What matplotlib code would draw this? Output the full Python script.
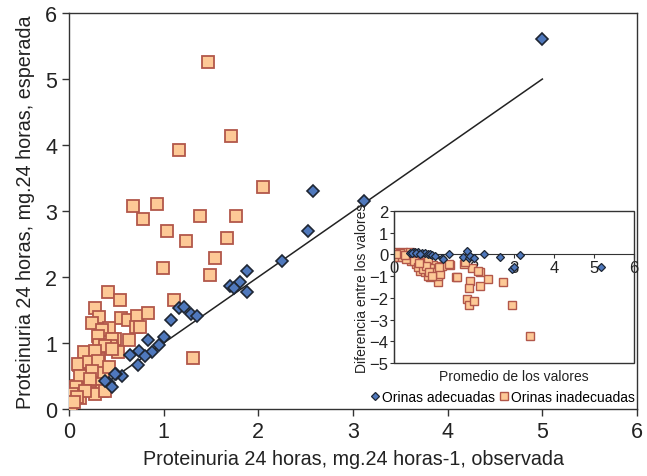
import numpy as np
import matplotlib.pyplot as plt
from matplotlib.patches import Rectangle

plt.rcParams['font.family'] = ['Liberation Sans Narrow', 'Liberation Sans', 'DejaVu Sans']

# main plot: observed vs expected proteinuria
obs_ok = [5.0, 3.12, 2.58, 2.52, 2.25, 1.88, 1.81, 1.70, 1.74, 1.88, 1.16, 1.21, 1.29, 1.35,
          1.08, 0.83, 1.00, 0.95, 0.88, 0.74, 0.64, 0.80, 0.73, 0.56, 0.50, 0.49, 0.42, 0.45, 0.38]
exp_ok = [5.6, 3.15, 3.30, 2.69, 2.24, 2.09, 1.93, 1.86, 1.84, 1.78, 1.53, 1.54, 1.44, 1.41,
          1.35, 1.05, 1.09, 0.97, 0.86, 0.88, 0.82, 0.80, 0.66, 0.50, 0.53, 0.53, 0.40, 0.34, 0.43]

obs_bad = [1.47, 1.16, 1.71, 2.05, 0.68, 0.93, 0.78, 1.38, 1.76, 1.04, 1.24, 1.67, 1.54, 0.99,
           1.49, 0.41, 0.54, 1.11, 0.28, 0.32, 0.55, 0.62, 0.72, 0.84, 0.24, 0.42, 0.35, 0.71,
           0.75, 0.63, 0.31, 0.49, 0.45, 0.44, 0.52, 0.16, 0.32, 0.31, 0.32, 1.31, 0.11, 0.23,
           0.35, 0.14, 0.14, 0.23, 0.30, 0.35, 0.27, 0.06, 0.12, 0.01, 0.00, 0.08, 0.36, 0.38,
           0.28, 0.45, 0.10, 0.21, 0.31, 0.24, 0.12, 0.22, 0.07, 0.17, 0.03, 0.01, 0.08, 0.38,
           0.42, 0.02, 0.05]
exp_bad = [5.26, 3.93, 4.14, 3.36, 3.07, 3.10, 2.88, 2.92, 2.93, 2.70, 2.54, 2.59, 2.29, 2.14,
           2.03, 1.77, 1.65, 1.65, 1.53, 1.40, 1.38, 1.35, 1.41, 1.45, 1.31, 1.23, 1.20, 1.24,
           1.25, 1.05, 1.10, 1.06, 1.06, 0.96, 0.86, 0.87, 0.97, 0.86, 0.75, 0.78, 0.67, 0.66,
           0.62, 0.56, 0.41, 0.43, 0.45, 0.28, 0.23, 0.25, 0.17, 0.13, 0.08, 0.35, 0.56, 0.96,
           0.88, 0.91, 0.68, 0.71, 0.73, 0.58, 0.50, 0.45, 0.33, 0.28, 0.23, 0.05, 0.18, 0.28,
           0.63, 0.00, 0.10]

# inset: Bland-Altman (mean of values, difference)
avg_ok = [0.52, 0.48, 0.60, 0.69, 0.77, 0.84, 0.90, 0.96, 1.02, 1.21, 1.23, 1.37, 1.82, 1.73,
          1.88, 1.90, 2.01, 2.25, 2.64, 2.95, 2.99, 3.14, 5.17, 0.40, 0.44, 0.56, 0.65]
dif_ok = [0.10, 0.10, 0.10, 0.06, 0.06, 0.02, 0.02, -0.03, -0.09, -0.18, -0.21, 0.00, 0.14, -0.13,
          -0.17, -0.06, -0.18, 0.02, -0.11, -0.67, -0.60, -0.01, -0.60, 0.05, 0.08, 0.05, 0.04]

avg_bad = [3.41, 2.95, 2.72, 2.34, 2.14, 2.15, 1.94, 1.76, 1.90, 1.88, 1.82, 1.88, 2.01, 1.54,
           1.40, 1.11, 1.11, 1.19, 0.98, 0.98, 0.90, 0.02, 0.23, 0.10, 0.35, 0.43, 0.56, 0.69,
           0.77, 0.65, 0.77, 0.85, 0.90, 1.02, 1.15, 1.12, 1.38, 0.39, 0.52, 0.85, 1.57, 2.09,
           1.78, 0.15, 0.20, 0.30, 0.50, 0.60, 0.72, 0.80, 0.88, 0.95, 0.62, 0.05, 0.28]
dif_bad = [-3.75, -2.33, -1.26, -1.13, -0.83, -1.44, -0.63, -0.44, -1.24, -1.56, -2.05, -2.32,
           -2.13, -1.06, -0.47, -1.29, -0.98, -0.52, -0.49, -0.83, -1.06, 0.10, 0.12, -0.14, -0.06,
           -0.29, -0.44, -0.52, -0.37, -0.75, -0.83, -0.98, -0.64, -0.83, -0.90, -0.60, -0.44,
           0.10, -0.06, -0.21, -1.06, -0.75, -0.36, 0.05, -0.10, -0.20, -0.30, -0.60, -0.65,
           -0.55, -0.80, -1.00, -0.40, 0.00, -0.02]

blue_face = '#4f78bc'
blue_edge = '#1e2633'
sq_face = '#fdc996'
sq_edge = '#b2574a'
axc = '#333333'

fig = plt.figure(figsize=(6.47, 4.77), dpi=100)
ax = fig.add_axes([0.1066, 0.1405, 0.878, 0.830])

ax.plot([0, 5], [0, 5], color='#222222', lw=1.1, zorder=2)
ax.plot(obs_bad, exp_bad, 's', ms=8, mfc=sq_face, mec=sq_edge, mew=1.3, zorder=3)
ax.plot(obs_ok, exp_ok, 'D', ms=6.5, mfc=blue_face, mec=blue_edge, mew=1.2, zorder=4)

ax.set_xlim(0, 6)
ax.set_ylim(0, 6)
ax.set_xticks(range(7))
ax.set_yticks(range(7))
for s in ax.spines.values():
    s.set_color(axc)
    s.set_linewidth(1.0)
ax.tick_params(direction='out', length=5, width=1, colors=axc, labelsize=15.5, labelcolor='#222222')
ax.set_xlabel('Proteinuria 24 horas, mg.24 horas-1, observada', fontsize=14.2, color='#222222', labelpad=5)
ax.set_ylabel('Proteinuria 24 horas, mg.24 horas, esperada', fontsize=14.2, color='#222222', labelpad=7)

# inset
ins = fig.add_axes([0.609, 0.2369, 0.371, 0.3187])
ins.patch.set_facecolor('white')
ins.plot(avg_bad, dif_bad, 's', ms=5.5, mfc=sq_face, mec=sq_edge, mew=1.0, zorder=3)
ins.plot(avg_ok, dif_ok, 'D', ms=4.5, mfc=blue_face, mec=blue_edge, mew=0.9, zorder=4)
ins.set_xlim(0, 6)
ins.set_ylim(-5, 2)
ins.set_xticks(range(7))
ins.set_yticks(range(-5, 3))
ins.spines['bottom'].set_position(('data', 0))
ins.spines['top'].set_visible(False)
ins.spines['right'].set_visible(False)
ins.spines['bottom'].set_color(axc)
ins.spines['left'].set_color(axc)
ins.add_patch(Rectangle((0, 0), 1, 1, transform=ins.transAxes, fill=False,
                        ec=axc, lw=1.0, clip_on=False, zorder=5))
ins.tick_params(direction='out', length=3, width=0.8, colors=axc, labelsize=12,
                labelcolor='#222222', pad=1)
ins.set_ylabel('Diferencia entre los valores', fontsize=10, color='#222222', labelpad=0)
ins.text(0.5, -0.04, 'Promedio de los valores', transform=ins.transAxes, ha='center', va='top',
         fontsize=10, color='#222222')

h1, = ins.plot([], [], 'D', ms=4.5, mfc=blue_face, mec=blue_edge, mew=0.9)
h2, = ins.plot([], [], 's', ms=5.5, mfc=sq_face, mec=sq_edge, mew=1.0)
fig.legend([h1, h2], ['Orinas adecuadas', 'Orinas inadecuadas'], loc='center',
           bbox_to_anchor=(0.777, 0.166), ncol=2, frameon=False, fontsize=10,
           handlelength=0.6, handletextpad=0.2, columnspacing=0.4, borderpad=0)

fig.savefig('out.png', dpi=100)
